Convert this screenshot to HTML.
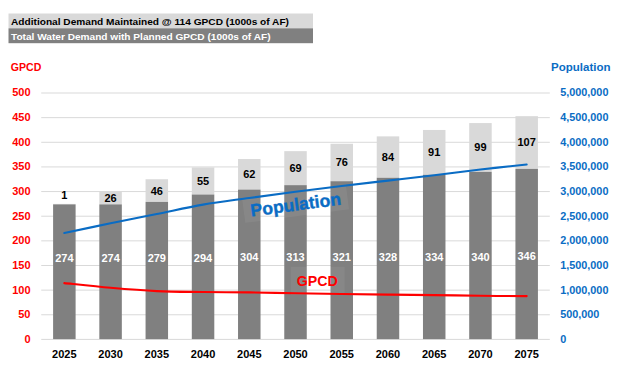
<!DOCTYPE html><html><head><meta charset="utf-8"><style>html,body{margin:0;padding:0;background:#fff;}svg{display:block;} svg text{font-family:"Liberation Sans",sans-serif;font-weight:bold;}</style></head><body>
<svg width="624" height="366" viewBox="0 0 624 366">
<rect x="0" y="0" width="624" height="366" fill="#fff"/>
<rect x="8.5" y="13.5" width="304.5" height="14.8" fill="#d9d9d9"/>
<rect x="8.5" y="28.3" width="304.5" height="14.9" fill="#808080"/>
<text x="11" y="24.6" font-family="Liberation Sans" font-weight="bold" font-size="9.8" fill="#000" textLength="278" lengthAdjust="spacingAndGlyphs">Additional Demand Maintained @ 114 GPCD (1000s of AF)</text>
<text x="11" y="39.7" font-family="Liberation Sans" font-weight="bold" font-size="9.8" fill="#fff" textLength="259.5" lengthAdjust="spacingAndGlyphs">Total Water Demand with Planned GPCD (1000s of AF)</text>
<text x="10.8" y="70.6" font-family="Liberation Sans" font-weight="bold" font-size="11.5" fill="#ff0000" textLength="30.5" lengthAdjust="spacingAndGlyphs">GPCD</text>
<text x="551" y="70.6" font-family="Liberation Sans" font-weight="bold" font-size="11.5" fill="#0a6cc4" textLength="59.5" lengthAdjust="spacingAndGlyphs">Population</text>
<rect x="41.23" y="338.90" width="508.56999999999994" height="1" fill="#d9d9d9"/>
<text x="30.5" y="343.00" font-family="Liberation Sans" font-weight="bold" font-size="11" fill="#ff0000" text-anchor="end">0</text>
<text x="560.2" y="342.85" font-family="Liberation Sans" font-weight="bold" font-size="10.85" fill="#0a6cc4">0</text>
<rect x="41.23" y="314.26" width="508.56999999999994" height="1" fill="#d9d9d9"/>
<text x="30.5" y="318.34" font-family="Liberation Sans" font-weight="bold" font-size="11" fill="#ff0000" text-anchor="end">50</text>
<text x="560.2" y="318.19" font-family="Liberation Sans" font-weight="bold" font-size="10.85" fill="#0a6cc4">500,000</text>
<rect x="41.23" y="289.62" width="508.56999999999994" height="1" fill="#d9d9d9"/>
<text x="30.5" y="293.68" font-family="Liberation Sans" font-weight="bold" font-size="11" fill="#ff0000" text-anchor="end">100</text>
<text x="560.2" y="293.53" font-family="Liberation Sans" font-weight="bold" font-size="10.85" fill="#0a6cc4">1,000,000</text>
<rect x="41.23" y="264.98" width="508.56999999999994" height="1" fill="#d9d9d9"/>
<text x="30.5" y="269.02" font-family="Liberation Sans" font-weight="bold" font-size="11" fill="#ff0000" text-anchor="end">150</text>
<text x="560.2" y="268.87" font-family="Liberation Sans" font-weight="bold" font-size="10.85" fill="#0a6cc4">1,500,000</text>
<rect x="41.23" y="240.34" width="508.56999999999994" height="1" fill="#d9d9d9"/>
<text x="30.5" y="244.36" font-family="Liberation Sans" font-weight="bold" font-size="11" fill="#ff0000" text-anchor="end">200</text>
<text x="560.2" y="244.21" font-family="Liberation Sans" font-weight="bold" font-size="10.85" fill="#0a6cc4">2,000,000</text>
<rect x="41.23" y="215.70" width="508.56999999999994" height="1" fill="#d9d9d9"/>
<text x="30.5" y="219.70" font-family="Liberation Sans" font-weight="bold" font-size="11" fill="#ff0000" text-anchor="end">250</text>
<text x="560.2" y="219.55" font-family="Liberation Sans" font-weight="bold" font-size="10.85" fill="#0a6cc4">2,500,000</text>
<rect x="41.23" y="191.06" width="508.56999999999994" height="1" fill="#d9d9d9"/>
<text x="30.5" y="195.04" font-family="Liberation Sans" font-weight="bold" font-size="11" fill="#ff0000" text-anchor="end">300</text>
<text x="560.2" y="194.89" font-family="Liberation Sans" font-weight="bold" font-size="10.85" fill="#0a6cc4">3,000,000</text>
<rect x="41.23" y="166.42" width="508.56999999999994" height="1" fill="#d9d9d9"/>
<text x="30.5" y="170.38" font-family="Liberation Sans" font-weight="bold" font-size="11" fill="#ff0000" text-anchor="end">350</text>
<text x="560.2" y="170.23" font-family="Liberation Sans" font-weight="bold" font-size="10.85" fill="#0a6cc4">3,500,000</text>
<rect x="41.23" y="141.78" width="508.56999999999994" height="1" fill="#d9d9d9"/>
<text x="30.5" y="145.72" font-family="Liberation Sans" font-weight="bold" font-size="11" fill="#ff0000" text-anchor="end">400</text>
<text x="560.2" y="145.57" font-family="Liberation Sans" font-weight="bold" font-size="10.85" fill="#0a6cc4">4,000,000</text>
<rect x="41.23" y="117.14" width="508.56999999999994" height="1" fill="#d9d9d9"/>
<text x="30.5" y="121.06" font-family="Liberation Sans" font-weight="bold" font-size="11" fill="#ff0000" text-anchor="end">450</text>
<text x="560.2" y="120.91" font-family="Liberation Sans" font-weight="bold" font-size="10.85" fill="#0a6cc4">4,500,000</text>
<rect x="41.23" y="92.50" width="508.56999999999994" height="1" fill="#d9d9d9"/>
<text x="30.5" y="96.40" font-family="Liberation Sans" font-weight="bold" font-size="11" fill="#ff0000" text-anchor="end">500</text>
<text x="560.2" y="96.25" font-family="Liberation Sans" font-weight="bold" font-size="10.85" fill="#0a6cc4">5,000,000</text>
<rect x="53.10" y="203.88" width="22.5" height="0.49" fill="#d9d9d9"/>
<rect x="53.10" y="204.37" width="22.5" height="134.73" fill="#808080"/>
<rect x="99.33" y="191.56" width="22.5" height="12.81" fill="#d9d9d9"/>
<rect x="99.33" y="204.37" width="22.5" height="134.73" fill="#808080"/>
<rect x="145.56" y="179.24" width="22.5" height="22.67" fill="#d9d9d9"/>
<rect x="145.56" y="201.91" width="22.5" height="137.19" fill="#808080"/>
<rect x="191.80" y="167.41" width="22.5" height="27.10" fill="#d9d9d9"/>
<rect x="191.80" y="194.52" width="22.5" height="144.58" fill="#808080"/>
<rect x="238.03" y="159.04" width="22.5" height="30.55" fill="#d9d9d9"/>
<rect x="238.03" y="189.59" width="22.5" height="149.51" fill="#808080"/>
<rect x="284.26" y="151.15" width="22.5" height="34.00" fill="#d9d9d9"/>
<rect x="284.26" y="185.15" width="22.5" height="153.95" fill="#808080"/>
<rect x="330.50" y="143.76" width="22.5" height="37.45" fill="#d9d9d9"/>
<rect x="330.50" y="181.21" width="22.5" height="157.89" fill="#808080"/>
<rect x="376.73" y="136.37" width="22.5" height="41.40" fill="#d9d9d9"/>
<rect x="376.73" y="177.76" width="22.5" height="161.34" fill="#808080"/>
<rect x="422.97" y="129.96" width="22.5" height="44.84" fill="#d9d9d9"/>
<rect x="422.97" y="174.80" width="22.5" height="164.30" fill="#808080"/>
<rect x="469.20" y="123.06" width="22.5" height="48.79" fill="#d9d9d9"/>
<rect x="469.20" y="171.85" width="22.5" height="167.25" fill="#808080"/>
<rect x="515.43" y="116.16" width="22.5" height="52.73" fill="#d9d9d9"/>
<rect x="515.43" y="168.89" width="22.5" height="170.21" fill="#808080"/>
<g transform="translate(295.53,203.6) rotate(-7.47)"><rect x="-52.3" y="-12.5" width="104.6" height="25" fill="#fff" fill-opacity="0.06"/></g>
<rect x="290.75" y="266.8" width="53.9" height="28.2" fill="#fff" fill-opacity="0.06"/>
<path d="M64.35,283.10 C72.05,283.88 95.17,286.47 110.58,287.80 C125.99,289.13 141.40,290.40 156.81,291.10 C172.23,291.80 187.64,291.78 203.05,292.00 C218.46,292.22 233.87,292.18 249.28,292.40 C264.69,292.62 280.10,293.03 295.51,293.30 C310.93,293.57 326.34,293.78 341.75,294.00 C357.16,294.22 372.57,294.42 387.98,294.60 C403.39,294.78 418.80,294.90 434.22,295.10 C449.63,295.30 465.04,295.63 480.45,295.80 C495.86,295.97 518.98,296.05 526.68,296.10" fill="none" stroke="#ff0000" stroke-width="2.1" stroke-linecap="round"/>
<path d="M64.35,233.00 C72.05,231.38 95.17,226.47 110.58,223.30 C125.99,220.13 141.40,217.12 156.81,214.00 C172.23,210.88 187.64,207.27 203.05,204.60 C218.46,201.93 233.87,200.15 249.28,198.00 C264.69,195.85 280.10,193.70 295.51,191.70 C310.93,189.70 326.34,187.85 341.75,186.00 C357.16,184.15 372.57,182.40 387.98,180.60 C403.39,178.80 418.80,177.05 434.22,175.20 C449.63,173.35 465.04,171.28 480.45,169.50 C495.86,167.72 518.98,165.33 526.68,164.50" fill="none" stroke="#0a6cc4" stroke-width="2.1" stroke-linecap="round"/>
<text x="64.35" y="262.00" font-family="Liberation Sans" font-weight="bold" font-size="11" fill="#fff" text-anchor="middle">274</text>
<text x="64.35" y="198.50" font-family="Liberation Sans" font-weight="bold" font-size="11" fill="#000" text-anchor="middle">1</text>
<text x="64.35" y="358" font-family="Liberation Sans" font-weight="bold" font-size="11" fill="#000" text-anchor="middle">2025</text>
<text x="110.58" y="261.84" font-family="Liberation Sans" font-weight="bold" font-size="11" fill="#fff" text-anchor="middle">274</text>
<text x="110.58" y="201.92" font-family="Liberation Sans" font-weight="bold" font-size="11" fill="#000" text-anchor="middle">26</text>
<text x="110.58" y="358" font-family="Liberation Sans" font-weight="bold" font-size="11" fill="#000" text-anchor="middle">2030</text>
<text x="156.81" y="261.68" font-family="Liberation Sans" font-weight="bold" font-size="11" fill="#fff" text-anchor="middle">279</text>
<text x="156.81" y="194.52" font-family="Liberation Sans" font-weight="bold" font-size="11" fill="#000" text-anchor="middle">46</text>
<text x="156.81" y="358" font-family="Liberation Sans" font-weight="bold" font-size="11" fill="#000" text-anchor="middle">2035</text>
<text x="203.05" y="261.52" font-family="Liberation Sans" font-weight="bold" font-size="11" fill="#fff" text-anchor="middle">294</text>
<text x="203.05" y="184.91" font-family="Liberation Sans" font-weight="bold" font-size="11" fill="#000" text-anchor="middle">55</text>
<text x="203.05" y="358" font-family="Liberation Sans" font-weight="bold" font-size="11" fill="#000" text-anchor="middle">2040</text>
<text x="249.28" y="261.36" font-family="Liberation Sans" font-weight="bold" font-size="11" fill="#fff" text-anchor="middle">304</text>
<text x="249.28" y="178.26" font-family="Liberation Sans" font-weight="bold" font-size="11" fill="#000" text-anchor="middle">62</text>
<text x="249.28" y="358" font-family="Liberation Sans" font-weight="bold" font-size="11" fill="#000" text-anchor="middle">2045</text>
<text x="295.51" y="261.20" font-family="Liberation Sans" font-weight="bold" font-size="11" fill="#fff" text-anchor="middle">313</text>
<text x="295.51" y="172.10" font-family="Liberation Sans" font-weight="bold" font-size="11" fill="#000" text-anchor="middle">69</text>
<text x="295.51" y="358" font-family="Liberation Sans" font-weight="bold" font-size="11" fill="#000" text-anchor="middle">2050</text>
<text x="341.75" y="261.04" font-family="Liberation Sans" font-weight="bold" font-size="11" fill="#fff" text-anchor="middle">321</text>
<text x="341.75" y="166.43" font-family="Liberation Sans" font-weight="bold" font-size="11" fill="#000" text-anchor="middle">76</text>
<text x="341.75" y="358" font-family="Liberation Sans" font-weight="bold" font-size="11" fill="#000" text-anchor="middle">2055</text>
<text x="387.98" y="260.88" font-family="Liberation Sans" font-weight="bold" font-size="11" fill="#fff" text-anchor="middle">328</text>
<text x="387.98" y="161.01" font-family="Liberation Sans" font-weight="bold" font-size="11" fill="#000" text-anchor="middle">84</text>
<text x="387.98" y="358" font-family="Liberation Sans" font-weight="bold" font-size="11" fill="#000" text-anchor="middle">2060</text>
<text x="434.22" y="260.72" font-family="Liberation Sans" font-weight="bold" font-size="11" fill="#fff" text-anchor="middle">334</text>
<text x="434.22" y="156.33" font-family="Liberation Sans" font-weight="bold" font-size="11" fill="#000" text-anchor="middle">91</text>
<text x="434.22" y="358" font-family="Liberation Sans" font-weight="bold" font-size="11" fill="#000" text-anchor="middle">2065</text>
<text x="480.45" y="260.56" font-family="Liberation Sans" font-weight="bold" font-size="11" fill="#fff" text-anchor="middle">340</text>
<text x="480.45" y="151.40" font-family="Liberation Sans" font-weight="bold" font-size="11" fill="#000" text-anchor="middle">99</text>
<text x="480.45" y="358" font-family="Liberation Sans" font-weight="bold" font-size="11" fill="#000" text-anchor="middle">2070</text>
<text x="526.68" y="260.40" font-family="Liberation Sans" font-weight="bold" font-size="11" fill="#fff" text-anchor="middle">346</text>
<text x="526.68" y="146.48" font-family="Liberation Sans" font-weight="bold" font-size="11" fill="#000" text-anchor="middle">107</text>
<text x="526.68" y="358" font-family="Liberation Sans" font-weight="bold" font-size="11" fill="#000" text-anchor="middle">2075</text>
<g transform="translate(295.53,203.6) rotate(-7.47)"><text x="0" y="7" font-family="Liberation Sans" font-weight="bold" font-size="17.5" fill="#0a6cc4" stroke="#0a6cc4" stroke-width="0.4" text-anchor="middle" textLength="91" lengthAdjust="spacingAndGlyphs">Population</text></g>
<text x="296.8" y="286" font-family="Liberation Sans" font-weight="bold" font-size="15.5" fill="#ff0000" textLength="41" lengthAdjust="spacingAndGlyphs">GPCD</text>
</svg></body></html>
